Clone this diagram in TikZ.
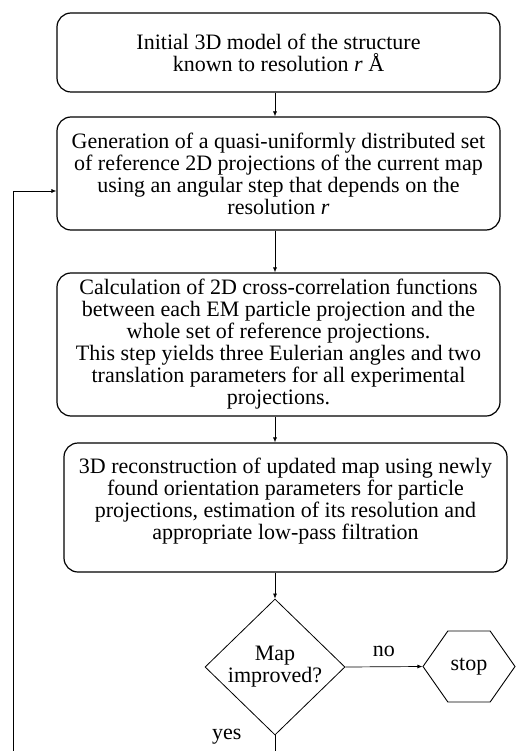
\documentclass[tikz,border=0pt]{standalone}
\usepackage{fontspec}
\setmainfont{Liberation Serif}
\usetikzlibrary{shapes.geometric,shapes.symbols,arrows.meta,positioning,calc}

\begin{document}
\begin{tikzpicture}[x=1pt,y=-1pt,font=\fontsize{22}{22}\selectfont,
  stepbox/.style={draw,rounded corners=14pt,line width=1.2pt,minimum width=443pt,align=center,inner sep=2pt},
  ask/.style={diamond,draw,line width=0.8pt,minimum width=140pt,minimum height=136pt,inner sep=0pt,align=center},
  halt/.style={signal,signal to=east and west,signal pointer angle=110,draw,line width=0.9pt,minimum width=92pt,minimum height=71pt,inner sep=0pt},
  arr/.style={-{Latex[length=5pt,width=4pt]},line width=0.7pt}]
\clip (0,0) rectangle (517,751);
\node[stepbox,minimum height=79pt] (init) at (278.5,52.5)
 {Initial 3D model of the structure\\known to resolution \textit{r} Å};
\node[stepbox,minimum height=113pt] (proj) at (278.5,173.5)
 {Generation of a quasi-uniformly distributed set\\of reference 2D projections of the current map\\using an angular step that depends on the\\resolution \textit{r}};
\node[stepbox,minimum height=143pt] (ccf) at (278.5,344.5)
 {Calculation of 2D cross-correlation functions\\between each EM particle projection and the\\whole set of reference projections.\\This step yields three Eulerian angles and two\\translation parameters for all experimental\\projections.};
\node[stepbox,minimum height=129pt] (recon) at (285.5,507.5)
 {3D reconstruction of updated map using newly\\found orientation parameters for particle\\projections, estimation of its resolution and\\appropriate low-pass filtration\rule[-17pt]{0pt}{1pt}};
\node[ask] (better) at (275,667) {Map\\improved?};
\node[halt] (stop) at (469,666.5) {stop};
\coordinate (loop) at (13,800);
% main column
\draw[arr] (init.south -| better) -- (proj.north -| better);
\draw[arr] (proj.south -| better) -- (ccf.north -| better);
\draw[arr] (ccf.south -| better) -- (recon.north -| better);
\draw[arr] (recon.south -| better) -- (better.north);
\draw[arr] (better.east) -- node[above=6pt]{no} (stop.west);
\node[anchor=east] at ([xshift=-30pt,yshift=-1pt]better.south) {yes};
% back to the projections
\draw[arr] (better.south) |- (loop) |- ([yshift=-17.5pt]proj.west);
\end{tikzpicture}
\end{document}
